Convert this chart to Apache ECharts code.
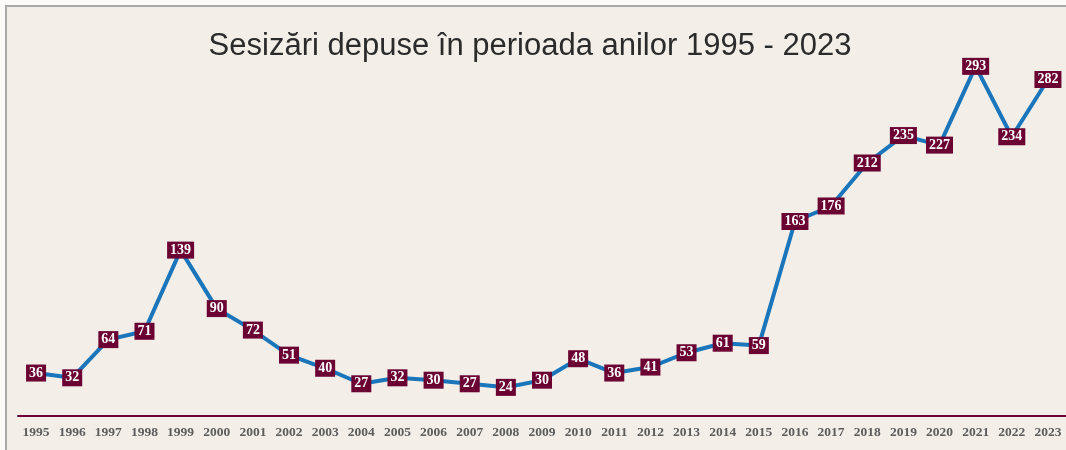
<!DOCTYPE html>
<html>
<head>
<meta charset="utf-8">
<script src="https://cdn.jsdelivr.net/npm/echarts@6/dist/echarts.min.js"></script>
<style>
html,body{margin:0;padding:0;background:#fbfaf8;overflow:hidden;}
#wrap{position:absolute;left:5px;top:5px;width:1061px;height:445px;border-top:2px solid #a9a9a9;border-left:2px solid #a9a9a9;background:#f3efe8;}
#c{width:1059px;height:443px;}
</style>
</head>
<body>
<div id="wrap"><div id="c"></div></div>
<script>
var titleText = 'Sesizări depuse în perioada anilor 1995 - 2023';
var years = ['1995','1996','1997','1998','1999','2000','2001','2002','2003','2004','2005','2006','2007','2008','2009','2010','2011','2012','2013','2014','2015','2016','2017','2018','2019','2020','2021','2022','2023'];
var complaints = [36,32,64,71,139,90,72,51,40,27,32,30,27,24,30,48,36,41,53,61,59,163,176,212,235,227,293,234,282];

var chart = echarts.init(document.getElementById('c'));
chart.setOption({
  backgroundColor: '#f3efe8',
  animation: false,
  title: {
    text: titleText,
    left: 518, top: 19, textAlign: 'center',
    textStyle: {fontFamily: 'Liberation Sans, Arial, sans-serif', fontSize: 31, fontWeight: 'normal', color: '#2b2b2b'}
  },
  grid: {left: 11, right: -1, top: 51, bottom: 34},
  xAxis: {
    type: 'category', data: years, boundaryGap: true,
    axisLine: {lineStyle: {color: '#6b0032', width: 2}},
    axisTick: {show: false},
    axisLabel: {interval: 0, margin: 10, fontFamily: 'Liberation Serif, Times New Roman, serif', fontWeight: 'bold', fontSize: 13.5, color: '#5c5c5c'}
  },
  yAxis: {type: 'value', min: 0, max: 300, show: false, splitLine: {show: false}},
  series: [{
    type: 'line', data: complaints,
    symbol: 'circle', symbolSize: 2, showSymbol: true,
    itemStyle: {color: '#1a75bb'},
    lineStyle: {color: '#1a75bb', width: 4},
    label: {
      show: true, position: 'inside',
      backgroundColor: '#6b0032', color: '#ffffff',
      fontFamily: 'Liberation Serif, Times New Roman, serif', fontWeight: 'bold', fontSize: 14,
      padding: [2, 3, 1, 3], lineHeight: 14
    }
  }]
});
</script>
</body>
</html>
